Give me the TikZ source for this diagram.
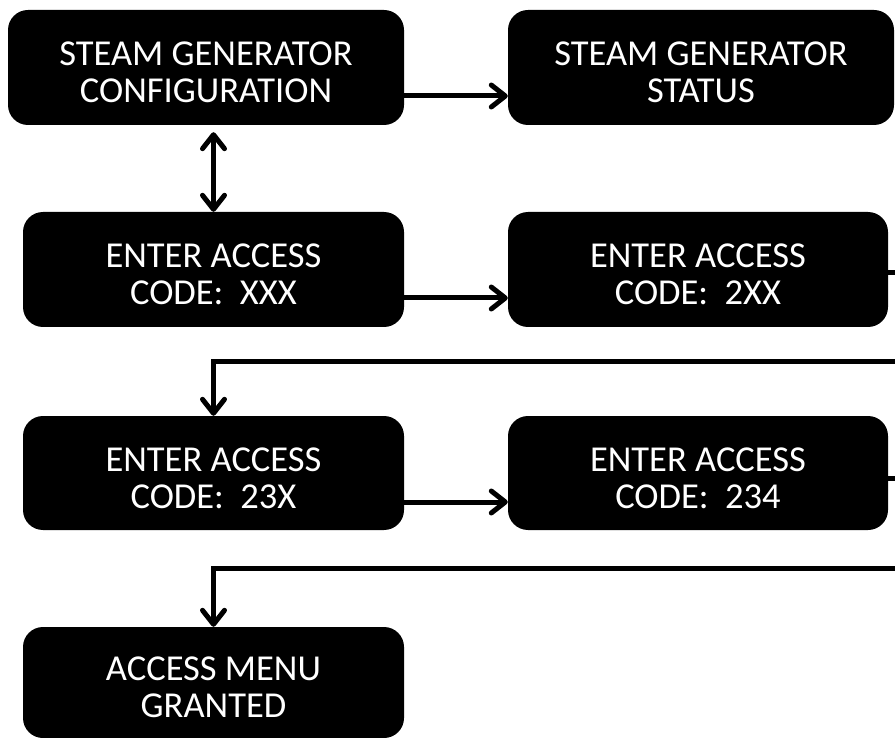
\documentclass[tikz,border=0pt]{standalone}
\usepackage{fontspec}
\setmainfont{Carlito}
\usetikzlibrary{arrows.meta}
\begin{document}
\begin{tikzpicture}[x=1pt,y=-1pt,
  screen/.style={fill=black,draw=none,rounded corners=20pt,inner sep=0pt},
  screentext/.style={text=white,align=center,inner sep=0pt,font=\fontsize{36.5}{37}\selectfont},
  link/.style={line width=5pt,line cap=round,line join=miter},
  tip/.style={},
  arr/.style={link,-{Straight Barb[length=14pt,width=22pt,line cap=round,line join=round]}},
  arrboth/.style={link,{Straight Barb[length=14pt,width=22pt,line cap=round,line join=round]}-{Straight Barb[length=14pt,width=22pt,line cap=round,line join=round]}}
]
\useasboundingbox (0,0) rectangle (895,738);
% boxes
\node[screen,minimum width=396pt,minimum height=115pt] (b1) at (206,67.5) {};
\node[screen,minimum width=386pt,minimum height=115pt] (b2) at (701,67.5) {};
\node[screen,minimum width=381pt,minimum height=115pt] (b3) at (213.5,269.5) {};
\node[screen,minimum width=380pt,minimum height=115pt] (b4) at (698,269.5) {};
\node[screen,minimum width=381pt,minimum height=114pt] (b5) at (213.5,473) {};
\node[screen,minimum width=380pt,minimum height=114pt] (b6) at (698,473) {};
\node[screen,minimum width=381pt,minimum height=111pt] (b7) at (213.5,682.5) {};
% texts
\node[screentext] (t1) at ([yshift=-5pt]b1.center) {STEAM GENERATOR\\CONFIGURATION};
\node[screentext] (t2) at ([yshift=-5pt]b2.center) {STEAM GENERATOR\\STATUS};
\node[screentext] (t3) at ([yshift=-5pt]b3.center) {ENTER ACCESS\\CODE:\ \ XXX};
\node[screentext] (t4) at ([yshift=-5pt]b4.center) {ENTER ACCESS\\CODE:\ \ 2XX};
\node[screentext] (t5) at ([yshift=-5pt]b5.center) {ENTER ACCESS\\CODE:\ \ 23X};
\node[screentext] (t6) at ([yshift=-5pt]b6.center) {ENTER ACCESS\\CODE:\ \ 234};
\node[screentext] (t7) at ([yshift=-5pt]b7.center) {ACCESS MENU\\GRANTED};
% edge coordinates
\coordinate (e1) at (895,273);
\coordinate (e2) at (895,361);
\coordinate (e3) at (895,478);
\coordinate (e4) at (895,568);
% connectors
\draw[arr] (b1.east |- 0,96) -- (b2.west |- 0,96);
\draw[arrboth,shorten <=7pt] (b3.north |- b1.south) -- (b3.north);
\draw[arr] (b3.east |- 0,298) -- (b4.west |- 0,298);
\draw[link] (b4.east |- e1) -- (e1);
\draw[arr] (e2) -- (b5.north |- e2) -- (b5.north);
\draw[arr] (b5.east |- 0,502) -- (b6.west |- 0,502);
\draw[link] (b6.east |- e3) -- (e3);
\draw[arr] (e4) -- (b7.north |- e4) -- (b7.north);
\end{tikzpicture}
\end{document}
